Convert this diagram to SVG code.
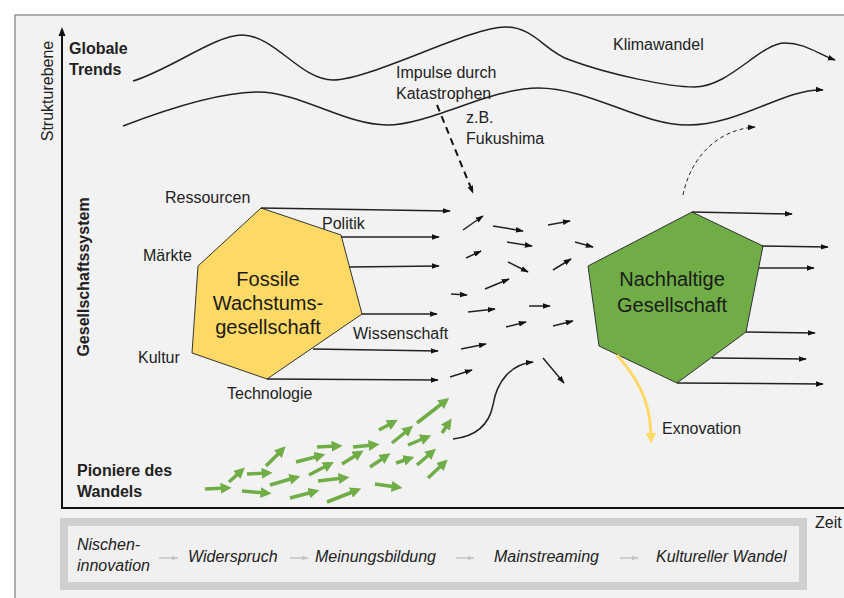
<svg xmlns="http://www.w3.org/2000/svg" width="844" height="598" viewBox="0 0 844 598">
<defs>
<style>
text{font-family:"Liberation Sans",Arial,sans-serif;fill:#222;font-size:16px}
.b{font-weight:bold}
.i{font-style:italic}
.big{font-size:20px;text-anchor:middle;fill:#1a1a1a}
.ln{stroke:#222;stroke-width:1.5;fill:none;marker-end:url(#ah)}
.gr{stroke:#70ad47;stroke-width:3.5;fill:none;marker-end:url(#ag)}
.gy{stroke:#c4c4c4;stroke-width:1.5;fill:none;marker-end:url(#agy)}
</style>
<marker id="ah" viewBox="0 0 10 10" refX="9" refY="5" markerWidth="8" markerHeight="8" markerUnits="userSpaceOnUse" orient="auto"><path d="M0,1.5 L10,5 L0,8.5 z" fill="#111"/></marker>
<marker id="ag" viewBox="0 0 10 10" refX="4" refY="5" markerWidth="11" markerHeight="11" markerUnits="userSpaceOnUse" orient="auto"><path d="M0,0 L10,5 L0,10 z" fill="#70ad47"/></marker>
<marker id="agy" viewBox="0 0 10 10" refX="9" refY="5" markerWidth="7" markerHeight="7" markerUnits="userSpaceOnUse" orient="auto"><path d="M0,1.5 L10,5 L0,8.5 z" fill="#c4c4c4"/></marker>
<marker id="ay" viewBox="0 0 10 10" refX="5" refY="5" markerWidth="11" markerHeight="11" markerUnits="userSpaceOnUse" orient="auto"><path d="M0,0 L10,5 L0,10 z" fill="#ffd966"/></marker>
</defs>
<rect width="844" height="598" fill="#fff"/>
<rect x="15" y="15" width="840" height="600" fill="#f2f2f2" stroke="#7f7f7f" stroke-width="1.2"/>

<g id="axes">
<path d="M62,508 L62,34" stroke="#111" stroke-width="2" fill="none"/>
<path d="M62,27 L58.5,36 L65.5,36 z" fill="#111"/>
<path d="M61,508 L844,508" stroke="#111" stroke-width="2" fill="none"/>
<text transform="translate(53,91) rotate(-90)" text-anchor="middle">Strukturebene</text>
<text x="815" y="528">Zeit</text>
</g>

<g id="level-labels">
<text class="b" x="69" y="54">Globale</text>
<text class="b" x="69" y="75">Trends</text>
<text class="b" transform="translate(89,277) rotate(-90)" text-anchor="middle">Gesellschaftssystem</text>
<text class="b" x="77" y="476">Pioniere des</text>
<text class="b" x="77" y="497">Wandels</text>
</g>

<g id="trends">
<path class="ln" stroke-width="2" d="M133,81 C170,70 215,35 242,35 C275,35 300,80 333,80 C370,80 470,27 505,27 C535,27 545,52 570,60 C610,75 670,87 694,87 C730,87 760,43 785,43 C805,43 818,54 835,60"/>
<path class="ln" stroke-width="2" d="M123,126 C170,108 220,92 258,92 C300,92 345,125 387,125 C430,125 490,88 538,88 C590,88 640,125 688,125 C740,125 785,88 823,90"/>
<text x="613" y="50">Klimawandel</text>
<text x="396" y="78">Impulse durch</text>
<text x="396" y="99">Katastrophen</text>
<text x="466" y="123">z.B.</text>
<text x="466" y="144">Fukushima</text>
</g>

<g id="fossil">
<polygon points="261,208 341,235 362,314 267,379 192,353 198,266" fill="#ffd966" stroke="#333" stroke-width="1"/>
<text class="big" x="268" y="286">Fossile</text>
<text class="big" x="268" y="310">Wachstums-</text>
<text class="big" x="268" y="334">gesellschaft</text>
<text x="165" y="203">Ressourcen</text>
<text x="322" y="229">Politik</text>
<text x="143" y="261">Märkte</text>
<text x="138" y="363">Kultur</text>
<text x="227" y="399">Technologie</text>
<text x="353" y="339">Wissenschaft</text>
</g>

<g id="sustainable">
<polygon points="692,212 763,246 746,332 677,383 599,346 588,266" fill="#70ad47" stroke="#333" stroke-width="1"/>
<text class="big" x="672" y="286">Nachhaltige</text>
<text class="big" x="672" y="312">Gesellschaft</text>
<text x="662" y="434">Exnovation</text>
</g>

<g id="connectors">
<path d="M437,105 L473,193" stroke="#111" stroke-width="2" stroke-dasharray="7,5" fill="none" marker-end="url(#ah)"/>
<path d="M683,195 C690,160 715,130 755,127" stroke="#222" stroke-width="1" stroke-dasharray="4,3" fill="none" marker-end="url(#ah)"/>
<path class="ln" d="M261,208 L450,211"/>
<path class="ln" d="M341,237 L439,237"/>
<path class="ln" d="M349,267 L439,266"/>
<path class="ln" d="M362,314 L437,314"/>
<path class="ln" d="M313,349 L438,351"/>
<path class="ln" d="M267,379 L438,380"/>
<path class="ln" d="M463,230 L483,216"/>
<path class="ln" d="M493,226 L523,231"/>
<path class="ln" d="M548,225 L570,221"/>
<path class="ln" d="M507,242 L532,246"/>
<path class="ln" d="M575,242 L593,247"/>
<path class="ln" d="M466,258 L481,251"/>
<path class="ln" d="M508,262 L528,272"/>
<path class="ln" d="M553,270 L571,259"/>
<path class="ln" d="M451,294 L467,295"/>
<path class="ln" d="M485,289 L509,279"/>
<path class="ln" d="M468,312 L495,309"/>
<path class="ln" d="M529,306 L550,306"/>
<path class="ln" d="M506,327 L526,322"/>
<path class="ln" d="M553,326 L573,321"/>
<path class="ln" d="M461,349 L486,344"/>
<path class="ln" d="M450,377 L472,370"/>
<path class="ln" d="M543,358 L564,383"/>
<path class="ln" d="M453,439 C480,436 490,420 493,405 C497,380 512,364 533,362"/>
<path class="ln" d="M692,212 L792,214"/>
<path class="ln" d="M762,246 L828,247"/>
<path class="ln" d="M759,268 L814,268"/>
<path class="ln" d="M746,332 L815,333"/>
<path class="ln" d="M712,358 L806,359"/>
<path class="ln" d="M677,383 L823,384"/>
<path d="M617,355 C630,370 640,385 645,400 C650,415 651,428 651,438" stroke="#ffd966" stroke-width="3" fill="none" marker-end="url(#ay)"/>
</g>

<g id="pioneers">
<path class="gr" d="M205,489 L225,488"/>
<path class="gr" d="M229,482 L240,472"/>
<path class="gr" d="M242,491 L265,493"/>
<path class="gr" d="M247,474 L266,473"/>
<path class="gr" d="M266,466 L281,451"/>
<path class="gr" d="M270,485 L294,478"/>
<path class="gr" d="M290,498 L313,492"/>
<path class="gr" d="M296,462 L319,456"/>
<path class="gr" d="M309,475 L328,465"/>
<path class="gr" d="M317,447 L336,446"/>
<path class="gr" d="M318,481 L343,478"/>
<path class="gr" d="M327,502 L355,491"/>
<path class="gr" d="M342,464 L358,454"/>
<path class="gr" d="M353,447 L373,445"/>
<path class="gr" d="M370,467 L385,457"/>
<path class="gr" d="M375,484 L396,487"/>
<path class="gr" d="M379,430 L392,423"/>
<path class="gr" d="M392,443 L408,430"/>
<path class="gr" d="M396,463 L408,459"/>
<path class="gr" d="M408,445 L425,438"/>
<path class="gr" d="M417,423 L444,402"/>
<path class="gr" d="M417,465 L431,453"/>
<path class="gr" d="M428,478 L443,464"/>
<path class="gr" d="M442,433 L448,424"/>
</g>

<g id="phases">
<rect x="64" y="522" width="739" height="64" fill="#f0f0f0" stroke="#cfcfcf" stroke-width="8"/>
<text class="i" x="77" y="550">Nischen-</text>
<text class="i" x="77" y="571">innovation</text>
<text class="i" x="188" y="562">Widerspruch</text>
<text class="i" x="315" y="562">Meinungsbildung</text>
<text class="i" x="494" y="562">Mainstreaming</text>
<text class="i" x="656" y="562">Kultureller Wandel</text>
<path class="gy" d="M159,558 L178,558"/>
<path class="gy" d="M290,558 L308,558"/>
<path class="gy" d="M456,558 L474,558"/>
<path class="gy" d="M620,558 L638,558"/>
</g>
</svg>
